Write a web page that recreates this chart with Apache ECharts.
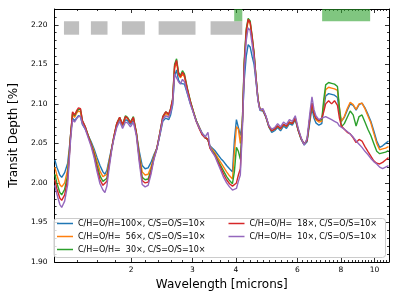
<!DOCTYPE html>
<html><head><meta charset="utf-8">
<script src="https://cdn.jsdelivr.net/npm/echarts@6/dist/echarts.min.js"></script>
<style>html,body{margin:0;padding:0;background:#fff}#c{width:399px;height:299px}</style>
</head><body><div id="c"></div>
<script>
const wavelength = [
1.208,1.224,1.248,1.264,1.289,1.315,1.332,1.341,1.358,1.376,
1.394,1.412,1.431,1.449,1.477,1.506,1.536,1.566,1.597,1.628,
1.660,1.682,1.704,1.726,1.760,1.783,1.818,1.854,1.890,1.927,
1.953,1.991,2.030,2.070,2.111,2.152,2.194,2.238,2.281,2.326,
2.372,2.418,2.466,2.514,2.564,2.597,2.631,2.666,2.701,2.736,
2.772,2.808,2.845,2.900,2.958,3.016,3.075,3.135,3.197,3.260,
3.324,3.367,3.411,3.478,3.546,3.616,3.687,3.760,3.833,3.909,
3.960,4.012,4.064,4.117,4.171,4.225,4.280,4.336,4.393,4.450,
4.508,4.567,4.626,4.687,4.779,4.874,4.969,5.067,5.166,5.268,
5.371,5.477,5.584,5.694,5.805,5.920,6.036,6.155,6.276,6.400,
6.525,6.611,6.697,6.784,6.918,7.053,7.145,7.238,7.380,7.526,
7.673,7.824,7.926,8.030,8.187,8.349,8.512,8.680,8.850,9.025,
9.201,9.383,9.566,9.755,9.946,10.143,10.341,10.545,10.751,10.963];

const depth100 = [
2.029,2.020,2.010,2.007,2.013,2.025,2.048,2.062,2.082,2.079,
2.082,2.085,2.084,2.074,2.068,2.060,2.052,2.043,2.032,2.022,
2.014,2.011,2.016,2.028,2.045,2.056,2.072,2.080,2.072,2.080,
2.079,2.074,2.079,2.063,2.040,2.022,2.018,2.019,2.026,2.036,
2.044,2.060,2.078,2.082,2.080,2.086,2.098,2.135,2.143,2.130,
2.126,2.128,2.125,2.113,2.100,2.090,2.079,2.071,2.063,2.059,
2.054,2.047,2.045,2.041,2.036,2.031,2.027,2.022,2.018,2.014,
2.055,2.080,2.078,2.060,2.075,2.130,2.160,2.175,2.172,2.160,
2.150,2.128,2.105,2.092,2.091,2.083,2.071,2.064,2.066,2.070,
2.066,2.072,2.069,2.075,2.073,2.080,2.066,2.055,2.048,2.052,
2.078,2.095,2.082,2.076,2.073,2.075,2.095,2.110,2.113,2.112,
2.111,2.108,2.090,2.078,2.083,2.092,2.100,2.098,2.092,2.099,
2.101,2.095,2.087,2.078,2.066,2.053,2.045,2.047,2.050,2.053];

const depth56 = [
2.020,2.010,1.998,1.995,2.000,2.017,2.045,2.062,2.087,2.083,
2.088,2.091,2.090,2.077,2.070,2.060,2.050,2.040,2.027,2.015,
2.008,2.006,2.011,2.025,2.044,2.057,2.074,2.082,2.073,2.083,
2.082,2.076,2.082,2.064,2.036,2.014,2.010,2.011,2.020,2.034,
2.044,2.062,2.082,2.088,2.085,2.092,2.104,2.145,2.153,2.137,
2.133,2.138,2.134,2.118,2.103,2.091,2.079,2.071,2.062,2.058,
2.055,2.046,2.043,2.038,2.032,2.026,2.020,2.014,2.009,2.005,
2.040,2.071,2.068,2.050,2.075,2.150,2.190,2.205,2.202,2.183,
2.162,2.132,2.106,2.093,2.092,2.084,2.072,2.066,2.068,2.072,
2.068,2.074,2.071,2.077,2.075,2.082,2.067,2.056,2.049,2.054,
2.083,2.100,2.087,2.080,2.077,2.078,2.100,2.118,2.121,2.120,
2.119,2.117,2.095,2.078,2.084,2.094,2.102,2.099,2.093,2.100,
2.101,2.094,2.085,2.076,2.063,2.050,2.042,2.043,2.044,2.046];

const depth30 = [
2.011,2.000,1.988,1.985,1.992,2.010,2.042,2.060,2.089,2.085,
2.090,2.093,2.093,2.079,2.071,2.060,2.049,2.037,2.022,2.009,
2.002,2.000,2.006,2.022,2.044,2.058,2.075,2.083,2.074,2.085,
2.083,2.077,2.084,2.064,2.032,2.007,2.004,2.005,2.016,2.032,
2.044,2.063,2.084,2.090,2.087,2.094,2.106,2.150,2.157,2.140,
2.136,2.142,2.138,2.120,2.104,2.091,2.079,2.070,2.062,2.057,
2.055,2.045,2.041,2.036,2.029,2.022,2.015,2.008,2.003,1.999,
2.015,2.045,2.040,2.030,2.075,2.155,2.195,2.208,2.205,2.186,
2.165,2.134,2.107,2.093,2.093,2.084,2.072,2.066,2.068,2.072,
2.069,2.074,2.072,2.077,2.075,2.082,2.067,2.056,2.049,2.054,
2.084,2.101,2.088,2.082,2.079,2.080,2.105,2.124,2.127,2.126,
2.125,2.122,2.095,2.071,2.075,2.083,2.091,2.086,2.072,2.084,
2.086,2.077,2.068,2.060,2.050,2.040,2.037,2.038,2.039,2.041];

const depth18 = [
2.004,1.993,1.981,1.978,1.985,2.005,2.040,2.060,2.090,2.086,
2.091,2.095,2.094,2.079,2.071,2.059,2.048,2.035,2.018,2.004,
1.997,1.995,2.002,2.020,2.044,2.058,2.075,2.083,2.074,2.084,
2.082,2.076,2.083,2.063,2.030,2.003,2.000,2.001,2.014,2.031,
2.044,2.063,2.084,2.090,2.087,2.094,2.106,2.148,2.155,2.138,
2.134,2.140,2.136,2.119,2.103,2.090,2.078,2.069,2.061,2.057,
2.055,2.044,2.040,2.035,2.027,2.019,2.011,2.004,1.999,1.996,
1.996,2.000,2.010,2.018,2.070,2.150,2.192,2.207,2.203,2.185,
2.163,2.133,2.106,2.093,2.093,2.084,2.072,2.066,2.068,2.072,
2.069,2.074,2.072,2.077,2.075,2.082,2.067,2.056,2.049,2.054,
2.084,2.101,2.088,2.082,2.079,2.082,2.090,2.100,2.104,2.100,
2.104,2.098,2.082,2.072,2.068,2.064,2.062,2.057,2.051,2.055,
2.053,2.046,2.040,2.034,2.028,2.025,2.024,2.026,2.029,2.032];

const depth10 = [
1.997,1.986,1.973,1.969,1.977,1.998,2.036,2.056,2.080,2.077,
2.081,2.084,2.084,2.075,2.068,2.057,2.046,2.032,2.014,1.999,
1.991,1.988,1.996,2.016,2.042,2.055,2.070,2.078,2.069,2.077,
2.076,2.071,2.077,2.060,2.026,1.998,1.995,1.997,2.011,2.030,
2.043,2.061,2.080,2.085,2.083,2.089,2.100,2.138,2.140,2.128,
2.125,2.131,2.128,2.114,2.100,2.089,2.078,2.070,2.063,2.058,
2.064,2.046,2.040,2.034,2.025,2.016,2.007,2.000,1.995,1.991,
1.991,1.993,2.002,2.010,2.065,2.140,2.180,2.196,2.193,2.176,
2.157,2.130,2.104,2.092,2.094,2.085,2.073,2.068,2.070,2.075,
2.071,2.077,2.074,2.080,2.078,2.085,2.069,2.057,2.048,2.056,
2.090,2.109,2.093,2.085,2.080,2.082,2.083,2.084,2.082,2.080,
2.078,2.076,2.072,2.070,2.068,2.065,2.062,2.058,2.053,2.049,
2.045,2.040,2.036,2.031,2.027,2.024,2.020,2.018,2.020,2.022];

const seriesNames = [
  'C/H=O/H=100\u00d7, C/S=O/S=10\u00d7',
  'C/H=O/H=  56\u00d7, C/S=O/S=10\u00d7',
  'C/H=O/H=  30\u00d7, C/S=O/S=10\u00d7',
  'C/H=O/H=  18\u00d7, C/S=O/S=10\u00d7',
  'C/H=O/H=  10\u00d7, C/S=O/S=10\u00d7'
];
const seriesValues = [depth100, depth56, depth30, depth18, depth10];
const seriesColors = ['#1f77b4','#ff7f0e','#2ca02c','#d62728','#9467bd'];

const xMajorTicks = [2, 3, 4, 6, 8, 10];
const yMajorTicks = [1.90, 1.95, 2.00, 2.05, 2.10, 2.15, 2.20];
const grayBands = [[1.283,1.418],[1.533,1.711],[1.882,2.190],[2.399,3.061],[3.382,4.171]];
const greenBands = [[3.953,4.171],[7.07,9.71]];
const grayBandY = [2.1875, 2.2045];
const greenBandY = [2.2045, 2.22];

const X_MIN = 1.206, X_MAX = 11.0, Y_MIN = 1.90, Y_MAX = 2.22;

const xMinor = [];
for (let k = 7; k <= 55; k++) { const v = +(k * 0.2).toFixed(1); if (v > X_MIN && v < X_MAX && xMajorTicks.indexOf(v) < 0) xMinor.push(v); }
const yMinor = [];
for (let k = 191; k <= 221; k++) { if (k % 5 !== 0) yMinor.push(k / 100); }

const FONT = 'DejaVu Sans';
function xAx(pos, ticks, len, line, label, name) {
  return {
    type: 'log', logBase: 10, min: X_MIN, max: X_MAX, position: pos,
    axisLine: { show: line, lineStyle: { color: '#000', width: 1 } },
    axisTick: { show: true, inside: true, length: len, customValues: ticks, lineStyle: { color: '#000', width: 0.8 } },
    axisLabel: { show: label, customValues: ticks, formatter: v => String(Math.round(v)), fontSize: 7.5, color: '#000', fontFamily: FONT, margin: 4 },
    splitLine: { show: false }, minorTick: { show: false }, minorSplitLine: { show: false },
    name: name || '', nameLocation: 'middle', nameGap: 16,
    nameTextStyle: { fontSize: 12, color: '#000', fontFamily: FONT }
  };
}
function yAx(pos, ticks, len, line, label, name) {
  return {
    type: 'value', min: Y_MIN, max: Y_MAX, position: pos,
    axisLine: { show: line, lineStyle: { color: '#000', width: 1 } },
    axisTick: { show: true, inside: true, length: len, customValues: ticks, lineStyle: { color: '#000', width: 0.8 } },
    axisLabel: { show: label, customValues: ticks, formatter: v => v.toFixed(2), fontSize: 7.5, color: '#000', fontFamily: FONT, margin: 7 },
    splitLine: { show: false },
    name: name || '', nameLocation: 'middle', nameGap: 28,
    nameTextStyle: { fontSize: 12, color: '#000', fontFamily: FONT }
  };
}

const bands = [];
grayBands.forEach(b => bands.push([{ xAxis: b[0], yAxis: grayBandY[0], itemStyle: { color: 'rgba(128,128,128,0.5)' } }, { xAxis: b[1], yAxis: grayBandY[1] }]));
greenBands.forEach(b => bands.push([{ xAxis: b[0], yAxis: greenBandY[0], itemStyle: { color: 'rgba(44,160,44,0.6)' } }, { xAxis: b[1], yAxis: greenBandY[1] }]));

const series = seriesNames.map((n, i) => ({
  name: n, type: 'line', xAxisIndex: 0, yAxisIndex: 0,
  data: wavelength.map((w, j) => [w, seriesValues[i][j]]),
  symbol: 'none', showSymbol: false, smooth: false,
  lineStyle: { width: 1.4, color: seriesColors[i] }, itemStyle: { color: seriesColors[i] },
  z: 2 + i, animation: false,
  markArea: i === 0 ? { silent: true, data: bands } : undefined
}));

const legendBase = {
  orient: 'vertical', top: 219.5, icon: 'rect', itemWidth: 16, itemHeight: 1.5, itemGap: 5, padding: 0, z: 60,
  textStyle: { fontSize: 8, color: '#000', fontFamily: FONT }, selectedMode: false
};

const chart = echarts.init(document.getElementById('c'), null, { renderer: 'canvas' });
chart.setOption({
  animation: false,
  backgroundColor: '#fff',
  grid: { left: 48, right: 10, top: 9, bottom: 37, containLabel: false },
  xAxis: [
    xAx('bottom', xMajorTicks, 4, true, true, 'Wavelength [microns]'),
    xAx('bottom', xMinor, 2, false, false),
    xAx('top', xMajorTicks, 4, true, false),
    xAx('top', xMinor, 2, false, false)
  ],
  yAxis: [
    yAx('left', yMajorTicks, 4, true, true, 'Transit Depth [%]'),
    yAx('left', yMinor, 2, false, false),
    yAx('right', yMajorTicks, 4, true, false),
    yAx('right', yMinor, 2, false, false)
  ],
  graphic: [{
    type: 'rect', left: 53.5, top: 218, z: 50,
    shape: { width: 331.5, height: 39, r: 3 },
    style: { fill: 'rgba(255,255,255,0.8)', stroke: '#cccccc', lineWidth: 1 }
  }],
  legend: [
    Object.assign({}, legendBase, { data: seriesNames.slice(0, 3), left: 57 }),
    Object.assign({}, legendBase, { data: seriesNames.slice(3), left: 228.5 })
  ],
  series: series
});
</script></body></html>
